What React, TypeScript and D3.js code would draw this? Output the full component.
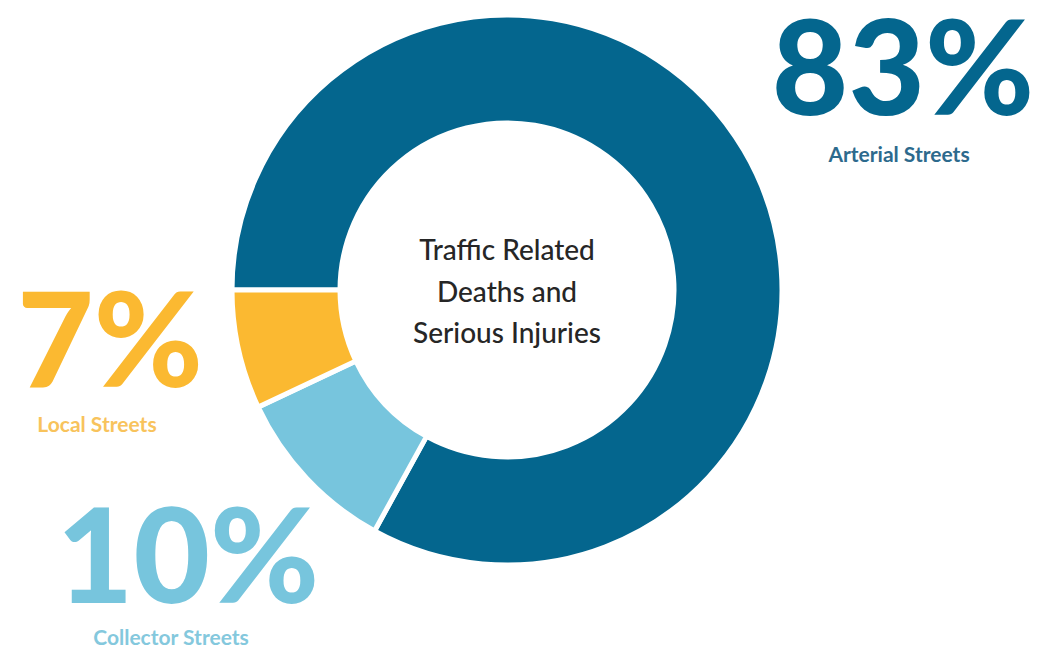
import { useRef, useEffect } from "react";
import * as d3 from "d3";

// street categories and their share of traffic deaths + serious injuries
const categories = ["Arterial Streets", "Collector Streets", "Local Streets"];
const shares = [83, 10, 7];
const sliceColors = ["#04668e", "#77c5dd", "#fbb931"];
const labelColors = ["#2d6a8d", "#84c8dd", "#f8c35c"];
const centerLines = ["Traffic Related", "Deaths and", "Serious Injuries"];

// where each callout sits (layout only)
const callouts = [
  { x: 903, y: 115, lx: 899, ly: 162 },
  { x: 188, y: 603, lx: 171, ly: 645 },
  { x: 110, y: 387, lx: 97, ly: 432 },
];

const W = 1052;
const H = 651;

export default function App() {
  const svgRef = useRef(null);

  useEffect(() => {
    const svg = d3.select(svgRef.current);
    svg.selectAll("*").remove();
    svg.attr("width", W).attr("height", H);

    const cx = 507;
    const cy = 290;
    const outer = 275;
    const inner = 167;

    const rows = categories.map((name, i) => ({ name, value: shares[i], i }));

    const pie = d3
      .pie<any>()
      .sort(null)
      .value((d) => d.value)
      .startAngle(-Math.PI / 2)
      .endAngle(Math.PI * 1.5);

    const arc = d3.arc<any>().innerRadius(inner).outerRadius(outer);

    const g = svg.append("g").attr("transform", `translate(${cx},${cy})`);
    g.selectAll("path")
      .data(pie(rows))
      .join("path")
      .attr("d", arc)
      .attr("fill", (d) => sliceColors[d.data.i])
      .attr("stroke", "#fff")
      .attr("stroke-width", 5)
      .attr("stroke-linejoin", "miter");

    // middle label
    g.append("text")
      .attr("text-anchor", "middle")
      .attr("font-family", "Lato, sans-serif")
      .attr("font-size", 28)
      .attr("font-weight", 500)
      .attr("fill", "#262626")
      .selectAll("tspan")
      .data(centerLines)
      .join("tspan")
      .attr("x", 0)
      .attr("y", (_, i) => -30 + i * 41.5)
      .text((d) => d);

    // percentage callouts
    const c = svg
      .selectAll("g.callout")
      .data(rows)
      .join("g")
      .attr("class", "callout");

    c.append("text")
      .attr("x", (d) => callouts[d.i].x)
      .attr("y", (d) => callouts[d.i].y)
      .attr("text-anchor", "middle")
      .attr("font-family", "Lato, sans-serif")
      .attr("font-weight", 900)
      .attr("font-size", 132)
      .attr("fill", (d) => sliceColors[d.i])
      .text((d) => `${d.value}%`);

    c.append("text")
      .attr("x", (d) => callouts[d.i].lx)
      .attr("y", (d) => callouts[d.i].ly)
      .attr("text-anchor", "middle")
      .attr("font-family", "Lato, sans-serif")
      .attr("font-weight", 700)
      .attr("font-size", 21)
      .attr("fill", (d) => labelColors[d.i])
      .text((d) => d.name);
  }, []);

  return (
    <svg
      ref={svgRef}
      style={{ position: "absolute", left: 0, top: 0, background: "#fff" }}
    />
  );
}
